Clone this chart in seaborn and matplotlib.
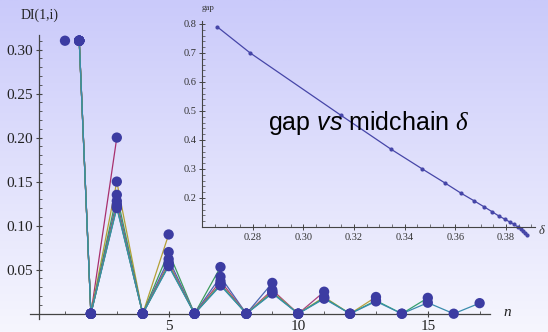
import numpy as np
import pandas as pd
import matplotlib
matplotlib.use("Agg")
import matplotlib.pyplot as plt
import seaborn as sns
from matplotlib.ticker import MultipleLocator, FixedLocator, FuncFormatter

# ---------------- data ----------------
# main plot: DI(1,i) for several chain lengths (series end at odd n)
first_x = 1.55
iso_point_x = [1.0]
iso_point_y = [0.31]
series_ends = [3, 5, 7, 9, 11, 13, 15, 17]
odd_values = {
    3:  [0.200],
    5:  [0.150, 0.090],
    7:  [0.135, 0.070, 0.053],
    9:  [0.128, 0.062, 0.042, 0.035],
    11: [0.124, 0.058, 0.037, 0.027, 0.025],
    13: [0.122, 0.056, 0.034, 0.025, 0.019, 0.019],
    15: [0.121, 0.055, 0.033, 0.024, 0.018, 0.015, 0.018],
    17: [0.120, 0.054, 0.032, 0.023, 0.017, 0.014, 0.0125, 0.012],
}
start_value = 0.31
line_colors = ["#a8306e", "#b4a036", "#3c9c5c", "#4866b0",
               "#a8407c", "#baa040", "#34a070", "#3a8cac"]

# inset: gap vs midchain delta
delta = [0.266, 0.279, 0.3147, 0.3345, 0.347, 0.3559, 0.3622, 0.3675, 0.3715,
         0.3747, 0.3772, 0.3796, 0.3816, 0.3832, 0.3846, 0.3858, 0.3868, 0.3877, 0.3885]
gap = [0.79, 0.70, 0.486, 0.369, 0.30, 0.252, 0.217, 0.19, 0.169,
       0.152, 0.138, 0.127, 0.117, 0.109, 0.101, 0.093, 0.086, 0.079, 0.073]

# build long-form table
rows = []
for k, end in enumerate(series_ends):
    rows.append((f"N{end}", first_x, start_value))
    vals = odd_values[end]
    j = 0
    for n in range(2, end + 1):
        if n % 2 == 0:
            rows.append((f"N{end}", n, 0.0))
        else:
            rows.append((f"N{end}", n, vals[j]))
            j += 1
df = pd.DataFrame(rows, columns=["series", "n", "DI"])
df_in = pd.DataFrame({"delta": delta, "gap": gap})

# ---------------- figure ----------------
sns.set_theme(style="white")
plt.rcParams["font.family"] = ["Liberation Serif", "DejaVu Serif"]
plt.rcParams["mathtext.fontset"] = "custom"
plt.rcParams["mathtext.it"] = "Liberation Serif:italic"
plt.rcParams["mathtext.sf"] = "Liberation Sans:italic"
plt.rcParams["mathtext.rm"] = "Liberation Sans"

W, H = 548, 332
fig = plt.figure(figsize=(W / 100, H / 100), dpi=100)

# gradient background
bg = fig.add_axes([0, 0, 1, 1], zorder=-10)
top = np.array([202, 202, 250]) / 255.0
bot = np.array([246, 246, 254]) / 255.0
t = np.linspace(0, 1, 256)[:, None]
grad = top[None, :] * (1 - t) + bot[None, :] * t
bg.imshow(grad[:, None, :].repeat(2, axis=1), aspect="auto", extent=[0, 1, 0, 1])
bg.set_axis_off()

def px_rect(l, r, tp, b):
    return [l / W, 1 - b / H, (r - l) / W, (b - tp) / H]

ax = fig.add_axes(px_rect(30, 490, 35, 319))
ax.patch.set_alpha(0)
palette = {f"N{e}": c for e, c in zip(series_ends, line_colors)}
sns.lineplot(data=df, x="n", y="DI", hue="series", palette=palette,
             estimator=None, sort=False, lw=0.9, legend=False, ax=ax, zorder=2)
sns.scatterplot(data=df, x="n", y="DI", color="#3c3ca2", s=55, edgecolor="none",
                legend=False, ax=ax, zorder=3, clip_on=False)
ax.scatter(iso_point_x, iso_point_y, color="#3c3ca2", s=55, edgecolor="none",
           zorder=3, clip_on=False)

ax.set_xlim(-0.35, 17.4)
ax.set_ylim(-0.006, 0.3165)
for s in ["top", "right"]:
    ax.spines[s].set_visible(False)
ax.spines["left"].set_position(("data", 0))
ax.spines["bottom"].set_position(("data", 0))
for s in ["left", "bottom"]:
    ax.spines[s].set_color("#444444")
    ax.spines[s].set_linewidth(0.9)
ax.set_xlabel("")
ax.set_ylabel("")
ax.xaxis.set_major_locator(FixedLocator([5, 10, 15]))
ax.xaxis.set_minor_locator(MultipleLocator(1))
ax.yaxis.set_major_locator(FixedLocator([0.05, 0.10, 0.15, 0.20, 0.25, 0.30]))
ax.yaxis.set_minor_locator(MultipleLocator(0.01))
ax.yaxis.set_major_formatter(FuncFormatter(lambda v, p: f"{v:.2f}"))
ax.tick_params(which="major", direction="inout", length=5, width=0.8,
               color="#444444", labelsize=11, labelcolor="#222222", pad=2)
ax.tick_params(which="minor", direction="in", length=2.5, width=0.6, color="#444444")
ax.tick_params(axis="x", which="both", bottom=True)
ax.tick_params(axis="y", which="both", left=True)
ax.text(40 / W, 1 - 15 / H, "DI(1,i)", transform=fig.transFigure, fontsize=10,
        ha="center", va="center", color="#222222")
ax.text(507 / W, 1 - 313 / H, "n", transform=fig.transFigure, fontsize=11,
        style="italic", ha="center", va="center", color="#222222")

# inset
ax2 = fig.add_axes(px_rect(202, 535, 21, 227))
ax2.patch.set_alpha(0)
sns.lineplot(data=df_in, x="delta", y="gap", color="#4646a8", lw=0.9,
             marker="o", markersize=3, markeredgewidth=0, ax=ax2, clip_on=False)
ax2.set_xlim(0.26, 0.3915)
ax2.set_ylim(0.1, 0.81)
for s in ["top", "right"]:
    ax2.spines[s].set_visible(False)
for s in ["left", "bottom"]:
    ax2.spines[s].set_color("#444444")
    ax2.spines[s].set_linewidth(0.8)
ax2.set_xlabel("")
ax2.set_ylabel("")
ax2.xaxis.set_major_locator(FixedLocator([0.28, 0.30, 0.32, 0.34, 0.36, 0.38]))
ax2.xaxis.set_minor_locator(MultipleLocator(0.005))
ax2.yaxis.set_major_locator(FixedLocator([0.2, 0.3, 0.4, 0.5, 0.6, 0.7, 0.8]))
ax2.yaxis.set_minor_locator(MultipleLocator(0.02))
ax2.xaxis.set_major_formatter(FuncFormatter(lambda v, p: f"{v:.2f}"))
ax2.yaxis.set_major_formatter(FuncFormatter(lambda v, p: f"{v:.1f}"))
ax2.tick_params(which="major", direction="inout", length=4, width=0.7,
                color="#444444", labelsize=7.5, labelcolor="#333333", pad=2)
ax2.tick_params(which="minor", direction="in", length=2, width=0.5, color="#444444")
ax2.tick_params(axis="x", which="both", bottom=True)
ax2.tick_params(axis="y", which="both", left=True)
fig.text(208 / W, 1 - 8 / H, "gap", fontsize=6.5, ha="center", va="center", color="#333333")
fig.text(538 / W, 1 - 230 / H, r"$\delta$", fontsize=9, ha="left", va="center", color="#333333")

fig.text(268 / W, 1 - 130 / H, r"gap $\mathsf{vs}$ midchain $\delta$",
         family="Liberation Sans", fontsize=18, ha="left", va="baseline", color="black")

fig.savefig("out.png", dpi=100)
